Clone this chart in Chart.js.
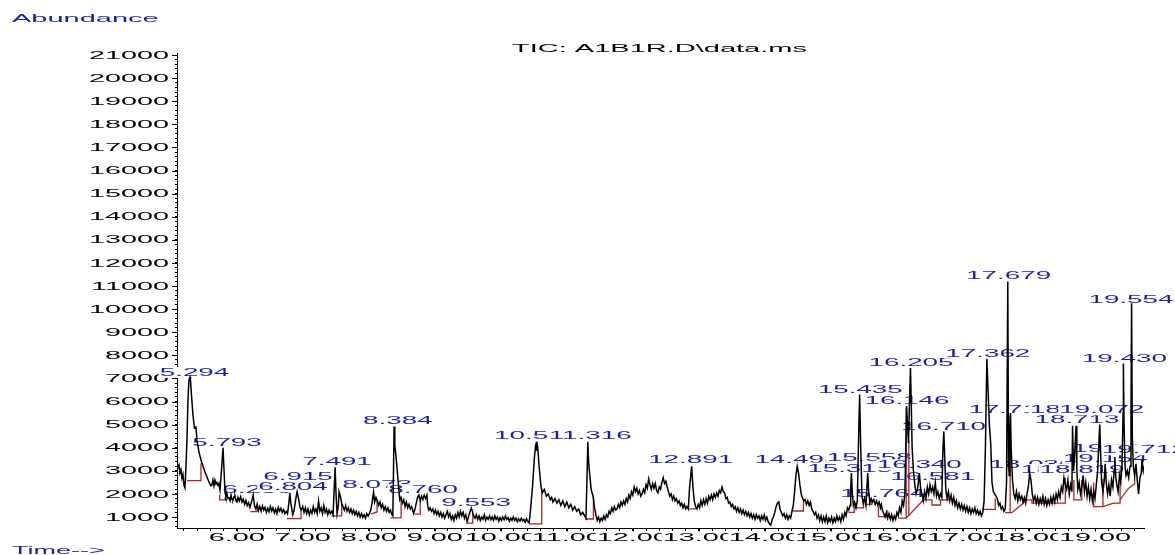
<!DOCTYPE html>
<html>
<head>
<meta charset="utf-8">
<title>TIC: A1B1R.D\data.ms</title>
<script src="https://cdn.jsdelivr.net/npm/chart.js@4.4.1/dist/chart.umd.min.js"></script>
<style>
  html, body { margin: 0; padding: 0; background: #fff; }
  canvas { display: block; }
</style>
</head>
<body>
<canvas id="ticChart" width="1175" height="555"></canvas>
<script>
// TIC trace, [retention time (min), abundance]
const ticA = [
  [5.095,3340],[5.11,3150],[5.126,3250],[5.14,2900],[5.156,3050],[5.171,2690],[5.186,2850],[5.20,2390],
  [5.216,2260],[5.23,3040],[5.247,4340],[5.262,6070],[5.277,6930],[5.294,7060],[5.30,6950],[5.315,6280],
  [5.338,5410],[5.36,4860],[5.383,4900],[5.398,4340],[5.429,3810],[5.46,3470],[5.489,3210],[5.52,2950],
  [5.55,2730],[5.58,2520],[5.61,2350],[5.626,2390],[5.64,2600],[5.656,2350],[5.67,2600],[5.686,2430],
  [5.70,2500],[5.716,2380],[5.73,2450],[5.747,2170],[5.77,3040],[5.793,4000],[5.808,3050],[5.823,2080],
  [5.838,1870],[5.853,2000],[5.868,1800],[5.883,1830],[5.90,1700],[5.914,1950],[5.93,1750],[5.944,1740],
  [5.96,1880],[5.974,1910],[5.99,1700]
];
const ticB = [
  [6.005,1650],[6.02,1850],[6.04,1700],[6.06,1880],[6.08,1650],[6.10,1780],[6.12,1550],[6.14,1720],
  [6.16,1500],[6.18,1620],[6.20,1420],[6.22,1600],[6.25,1950],[6.27,1500],[6.29,1350],[6.31,1560],
  [6.33,1280],[6.35,1450],[6.37,1250],[6.39,1480],[6.41,1300],[6.43,1420],[6.45,1200],[6.47,1380],
  [6.49,1230],[6.51,1450],[6.53,1260],[6.55,1400],[6.57,1180],[6.59,1350],[6.61,1150],[6.63,1420],
  [6.65,1250],[6.67,1380],[6.69,1200],[6.71,1320],[6.73,1150],[6.75,1250],[6.77,1150],[6.79,1600],
  [6.804,2050],[6.82,1600],[6.85,1100],[6.87,1300],[6.89,1700],[6.915,2100],[6.94,1750],[6.96,1400],
  [6.98,1300],[7.00,1450],[7.02,1200],[7.04,1400],[7.06,1150],[7.08,1350],[7.10,1100],[7.12,1300],
  [7.14,1150],[7.16,1450],[7.18,1200],[7.20,1350],[7.22,1150],[7.24,1700],[7.26,1250],[7.28,1400],
  [7.30,1150],[7.32,1500],[7.34,1200],[7.36,1350],[7.38,1100],[7.40,1300],[7.42,1150],[7.44,1250],
  [7.46,1100],[7.475,2100],[7.491,3150],[7.505,2000],[7.52,1150],[7.54,1500],[7.55,2100],[7.57,1900],
  [7.59,1600],[7.61,1450],[7.63,1300],[7.65,1500],[7.67,1250],[7.69,1400],[7.71,1200],[7.73,1350],
  [7.75,1150],[7.77,1300],[7.79,1100],[7.81,1250],[7.83,1050],[7.85,1200],[7.87,1000],[7.89,1150],
  [7.91,980],[7.93,1100],[7.95,950],[7.97,1150],[7.99,1050]
];
const ticC = [
  [8.01,1150],[8.03,1300],[8.05,1600],[8.073,2080],[8.09,1650],[8.11,1850],[8.13,1700],[8.15,1500],
  [8.17,1650],[8.19,1400],[8.21,1550],[8.23,1300],[8.25,1450],[8.27,1250],[8.29,1400],[8.31,1200],
  [8.33,1300],[8.35,1100],[8.365,1050],[8.375,3000],[8.384,4920],[8.395,4100],[8.414,3600],[8.44,2730],
  [8.47,1740],[8.49,1850],[8.51,1600],[8.53,1750],[8.55,1450],[8.57,1650],[8.59,1400],[8.61,1550],
  [8.63,1350],[8.65,1450],[8.68,1150],[8.70,1350],[8.72,1600],[8.74,1850],[8.76,1950],[8.78,1700],
  [8.80,1900],[8.82,1750],[8.84,1950],[8.86,1800],[8.88,1950],[8.895,1450],[8.91,1300],[8.93,1400],
  [8.95,1250],[8.97,1350],[8.99,1150],[9.01,1300],[9.03,1100],[9.05,1250],[9.07,1050],[9.09,1200],
  [9.11,1000],[9.13,1150],[9.15,950],[9.17,1100],[9.19,1250],[9.21,1000],[9.23,1150],[9.25,900],
  [9.27,1050],[9.29,850],[9.31,1100],[9.33,950],[9.35,1200],[9.37,1000],[9.39,1250],[9.41,1050],
  [9.43,1200],[9.45,950],[9.47,1100],[9.49,800],[9.51,1000],[9.53,1200],[9.553,1390],[9.57,1250],
  [9.59,1050],[9.61,950],[9.63,1100],[9.65,900],[9.67,1050],[9.69,850],[9.71,1000],[9.73,900],
  [9.75,1100],[9.77,850],[9.79,1000],[9.81,900],[9.83,1050],[9.85,880],[9.87,1000],[9.89,850],
  [9.91,1050],[9.93,900],[9.95,1000],[9.97,820],[9.99,980],[10.01,850],[10.03,1000],[10.05,880],
  [10.07,1050],[10.09,900],[10.11,980],[10.13,820],[10.15,950],[10.17,860],[10.19,1000],[10.21,850],
  [10.23,950],[10.25,800],[10.27,920],[10.29,820],[10.31,950],[10.33,830],[10.35,900],[10.37,780],
  [10.39,920],[10.41,800]
];
const ticD = [
  [10.43,750],[10.45,1300],[10.48,2300],[10.51,3600],[10.525,4050],[10.535,3900],[10.545,4260],[10.56,4000],
  [10.58,3200],[10.61,2300],[10.63,2050],[10.66,2200],[10.69,1900],[10.72,2000],[10.75,1750],[10.77,1850],
  [10.79,1650],[10.82,1800],[10.85,1600],[10.88,1750],[10.91,1500],[10.94,1700],[10.97,1450],[11.00,1650],
  [11.03,1400],[11.06,1550],[11.09,1300],[11.12,1450],[11.15,1250],[11.18,1350],[11.21,1100],[11.24,1200],
  [11.27,1050],[11.29,950],[11.305,2600],[11.318,4260],[11.33,3400],[11.345,2900],[11.37,2170],[11.40,1880],
  [11.42,1400],[11.44,1100],[11.46,850],[11.48,1000],[11.50,800],[11.52,950],[11.54,850],[11.56,1050],
  [11.58,900],[11.60,1100],[11.62,1000],[11.64,1250],[11.66,1150],[11.68,1400],[11.70,1250],[11.72,1450],
  [11.74,1300],[11.76,1350],[11.78,1550],[11.80,1400],[11.82,1650],[11.84,1500],[11.86,1700],[11.88,1550],
  [11.90,1800],[11.92,1650],[11.94,1950],[11.96,1800],[11.98,2100]
];
const ticE = [
  [12.00,1950],[12.02,2300],[12.04,2100],[12.06,2250],[12.08,2000],[12.10,2150],[12.12,1900],[12.14,2000],
  [12.16,2200],[12.18,2050],[12.20,2400],[12.22,2250],[12.24,2650],[12.26,2400],[12.28,2200],[12.30,2450],
  [12.32,2250],[12.34,2450],[12.36,2150],[12.38,2050],[12.40,2300],[12.42,2200],[12.44,2500],[12.46,2700],
  [12.48,2450],[12.50,2550],[12.52,2300],[12.54,2100],[12.56,1900],[12.58,2000],[12.60,1750],[12.62,1900],
  [12.64,1700],[12.66,1800],[12.68,1600],[12.70,1700],[12.72,1500],[12.74,1600],[12.76,1400],[12.78,1550],
  [12.80,1350],[12.82,1450],[12.84,1350],[12.86,2300],[12.891,3200],[12.91,2300],[12.93,1700],[12.95,1450],
  [12.97,1350],[12.99,1550],[13.01,1400],[13.03,1700],[13.05,1500],[13.07,1750],[13.09,1550],[13.11,1800],
  [13.13,1600],[13.15,1900],[13.17,1750],[13.19,1950],[13.21,1750],[13.23,2000],[13.25,1850],[13.27,2050],
  [13.29,1900],[13.31,2150],[13.33,2050],[13.35,2300],[13.37,2100],[13.39,2050],[13.41,1800],[13.43,1850],
  [13.45,1600],[13.47,1650],[13.49,1450],[13.51,1550],[13.53,1350],[13.55,1450],[13.57,1250],[13.59,1400],
  [13.61,1200],[13.63,1350],[13.65,1150],[13.67,1300],[13.69,1100],[13.71,1250],[13.73,1050],[13.75,1200],
  [13.77,1000],[13.79,1150],[13.81,950],[13.83,1100],[13.85,900],[13.87,1100],[13.89,950],[13.91,1050],
  [13.93,850],[13.95,1050],[13.97,900],[13.99,1100],[14.01,850],[14.03,1000],[14.05,800],[14.07,700],
  [14.09,650],[14.11,900],[14.13,1000],[14.15,1200],[14.17,1450],[14.19,1600],[14.21,1650],[14.23,1350],
  [14.25,1200],[14.27,1050],[14.29,1150],[14.31,950],[14.33,1100],[14.35,900],[14.37,1050],[14.39,950],
  [14.41,1250],[14.43,1500],[14.45,2100],[14.47,2800],[14.49,3200],[14.51,2900],[14.53,2400],[14.55,2000],
  [14.57,1800],[14.59,1700],[14.61,1750],[14.63,1550],[14.65,1700],[14.67,1500],[14.69,1650],[14.71,1350],
  [14.73,1250],[14.75,1100],[14.77,1200],[14.79,950],[14.81,1100],[14.83,850],[14.85,1050],[14.87,800]
];
const ticF = [
  [14.89,1000],[14.91,800],[14.93,1050],[14.95,750],[14.97,950],[14.99,800],[15.01,1000],[15.03,750],
  [15.05,950],[15.07,800],[15.09,1050],[15.11,850],[15.13,1000],[15.15,800],[15.17,1100],[15.19,900],
  [15.21,1200],[15.23,1050],[15.25,1400],[15.27,1300],[15.29,1500],[15.30,2200],[15.31,2900],[15.325,2000],
  [15.34,1500],[15.36,1650],[15.38,1400],[15.40,1700],[15.42,4500],[15.435,6300],[15.45,4200],[15.47,1900],
  [15.49,1600],[15.51,1800],[15.53,1500],[15.545,2300],[15.558,2900],[15.57,2200],[15.59,1600],[15.61,1800],
  [15.63,1650],[15.65,1750],[15.67,1550],[15.69,1700],[15.71,1500],[15.73,1650],[15.75,1400],[15.764,1550],
  [15.78,1300],[15.80,1150],[15.82,1000],[15.84,1200],[15.86,950],[15.88,1150],[15.90,900],[15.92,1100],
  [15.94,850],[15.96,1050],[15.98,900],[16.00,1200],[16.02,1050],[16.04,1400],[16.06,1200],[16.08,1700],
  [16.10,1500],[16.12,2000],[16.135,4000],[16.146,5800],[16.16,5000],[16.175,4200],[16.19,6000],[16.205,7450],
  [16.215,6200],[16.23,4000],[16.25,3000],[16.27,2400],[16.29,2000],[16.31,2200],[16.325,2500],[16.34,2900],
  [16.36,2200],[16.38,2000],[16.40,1700],[16.42,2100],[16.44,1800],[16.46,2300],[16.48,2000],[16.50,2400],
  [16.52,2100],[16.54,2300],[16.56,2000],[16.581,2500],[16.60,1900],[16.62,2100],[16.64,1800],[16.66,2000],
  [16.68,1850],[16.695,3800],[16.71,4700],[16.725,3500],[16.74,2200],[16.76,1800],[16.78,2100]
];
const ticG = [
  [16.80,1700],[16.82,1950],[16.84,1600],[16.86,1850],[16.88,1500],[16.90,1700],[16.92,1400],[16.94,1600],
  [16.96,1350],[16.98,1550],[17.00,1300],[17.02,1500],[17.04,1250],[17.06,1450],[17.08,1200],[17.10,1400],
  [17.12,1150],[17.14,1350],[17.16,1200],[17.18,1400],[17.20,1150],[17.22,1300],[17.24,1100],[17.26,1250],
  [17.28,1050],[17.30,1200],[17.32,1700],[17.34,4000],[17.362,7850],[17.38,6500],[17.40,5000],[17.42,4200],
  [17.44,2500],[17.46,2100],[17.48,2000],[17.50,1900],[17.52,1800],[17.54,1500],[17.56,1600],[17.58,1350],
  [17.60,1450],[17.62,1250],[17.64,1350],[17.66,2500],[17.679,11200],[17.69,3500],[17.70,2800],[17.71,4800],
  [17.72,5500],[17.73,4000],[17.75,2600],[17.77,2000],[17.79,1800],[17.81,2100],[17.83,1700],[17.85,2000],
  [17.87,1750],[17.89,1900],[17.91,1650],[17.93,1850],[17.95,1600],[17.97,2000],[17.99,2300],[18.01,2900],
  [18.03,2600],[18.05,2000],[18.07,1700],[18.09,1900],[18.11,1600],[18.13,1850],[18.15,1550],[18.17,1800],
  [18.19,1600],[18.21,1900],[18.23,1550],[18.25,1800],[18.27,1500],[18.29,1750],[18.31,1550],[18.33,1850],
  [18.35,1600],[18.37,1900],[18.39,1650],[18.41,2000],[18.43,1750],[18.45,2100],[18.47,1850],[18.49,2300]
];
const ticH = [
  [18.51,2100],[18.53,2700],[18.55,2400],[18.57,2200],[18.59,2600],[18.61,2000],[18.63,2400],[18.65,2100],
  [18.66,4950],[18.675,3000],[18.69,3600],[18.713,4950],[18.725,3000],[18.74,2200],[18.76,2500],[18.78,2000],
  [18.80,2300],[18.819,2800],[18.84,2100],[18.86,2500],[18.88,1900],[18.90,2300],[18.92,1800],[18.94,2200],
  [18.96,1700],[18.98,2100],[19.00,1800],[19.02,2400],[19.04,3000],[19.06,4300],[19.072,5000],[19.085,3800],
  [19.10,2500],[19.12,2100],[19.14,2600],[19.154,3300],[19.17,2500],[19.19,2000],[19.21,2400],[19.23,1900],
  [19.25,2600],[19.27,2300],[19.29,3000],[19.30,3600],[19.315,2700],[19.33,2400],[19.35,2100],[19.37,2800],
  [19.39,2500],[19.41,3300],[19.425,5500],[19.43,7650],[19.44,5000],[19.455,3200],[19.47,2800],[19.49,3000],
  [19.51,2700],[19.53,3200],[19.545,5500],[19.554,10250],[19.565,4500],[19.58,3200],[19.60,2800],[19.62,3300],
  [19.64,2600],[19.66,2000],[19.68,2700],[19.70,2900],[19.712,3500],[19.73,3000],[19.742,3200]
];

// integration baselines (red), one polyline each
const baselines = [
  [[5.247,2575],[5.459,2575],[5.459,3330]],
  [[5.742,1955],[5.742,1740],[5.827,1740],[5.827,1870]],
  [[6.206,1230],[6.31,1230],[6.31,1480]],
  [[6.76,930],[6.974,930],[6.974,1350]],
  [[7.44,1050],[7.59,1050],[7.59,1600]],
  [[8.035,1130],[8.126,1220],[8.126,1700]],
  [[8.327,960],[8.49,960],[8.49,1850]],
  [[8.70,1130],[8.78,1130],[8.78,1700]],
  [[9.49,740],[9.576,740],[9.576,1150]],
  [[10.43,700],[10.62,700],[10.62,2260]],
  [[11.277,915],[11.403,915],[11.403,1880]],
  [[12.843,1350],[12.97,1350],[12.97,1400]],
  [[14.41,1260],[14.585,1260],[14.585,1800]],
  [[15.267,1200],[15.354,1200],[15.354,1500]],
  [[15.368,1400],[15.494,1400],[15.494,1600]],
  [[15.52,1550],[15.62,1550],[15.62,1750]],
  [[15.72,1450],[15.72,1015],[15.85,1015],[15.85,1300]],
  [[16.025,950],[16.14,950],[16.40,1740],[16.53,1740],[16.53,1520],[16.66,1520],[16.66,1740],[16.79,1740],[16.79,1850]],
  [[16.14,950],[16.14,5710]],
  [[16.18,1050],[16.18,4300]],
  [[17.288,1335],[17.489,1335],[17.489,1800]],
  [[17.64,1190],[17.74,1190],[17.97,1740],[18.045,1740],[18.045,1600],[18.55,1600],[18.55,2700]],
  [[17.715,1190],[17.715,5400]],
  [[18.68,2600],[18.68,1740],[18.80,1740],[18.80,2600]],
  [[18.98,2500],[18.98,1450],[19.12,1450],[19.12,2650]],
  [[19.12,1450],[19.28,1600],[19.38,1600],[19.38,3000]],
  [[19.38,1750],[19.51,2250],[19.60,2430],[19.60,3000]]
];

// peak labels: [text, centre time, baseline abundance], drawn in this order
const peakLabels = [
  ['5.294', 5.361, 7105], ['5.793', 5.853, 4090], ['6.256', 6.308, 2030], ['6.804', 6.853, 2170],
  ['6.915', 6.929, 2600], ['7.491', 7.52, 3250], ['8.073', 8.126, 2245], ['8.384', 8.44, 5030],
  ['8.760', 8.823, 2030], ['9.553', 9.626, 1480], ['10.546', 10.542, 4365], ['11.316', 11.353, 4365],
  ['12.891', 12.876, 3330], ['14.498', 14.485, 3330], ['15.318', 15.285, 2965], ['15.435', 15.444, 6380],
  ['15.558', 15.58, 3405], ['15.764', 15.785, 1880], ['16.146', 16.152, 5895], ['16.205', 16.213, 7540],
  ['16.340', 16.338, 3110], ['16.581', 16.542, 2605], ['16.710', 16.706, 4770], ['17.362', 17.376, 7940],
  ['17.679', 17.691, 11290], ['17.718', 17.727, 5490], ['18.036', 18.042, 3110], ['18.149', 18.52, 2900],
  ['18.665', 18.656, 5490], ['18.713', 18.727, 5060], ['18.819', 18.803, 2895], ['19.072', 19.103, 5490],
  ['19.306', 19.30, 3830], ['19.154', 19.156, 3395], ['19.430', 19.444, 7725], ['19.554', 19.545, 10280],
  ['19.712', 19.745, 3760]
];

const timeTicks = [6, 7, 8, 9, 10, 11, 12, 13, 14, 15, 16, 17, 18, 19];
const abundanceTicks = [1000, 2000, 3000, 4000, 5000, 6000, 7000, 8000, 9000, 10000,
  11000, 12000, 13000, 14000, 15000, 16000, 17000, 18000, 19000, 20000, 21000];

const BLUE = '#1e1e9e';
const FONT = '10px "Liberation Sans", Arial, sans-serif';

const toPts = arr => arr.map(([t, v]) => ({ x: t, y: v }));

// wide printout lettering: normal glyphs squeezed out horizontally
function wideText(ctx, text, x, y, sx, align, color, box) {
  ctx.save();
  ctx.font = FONT;
  const w = ctx.measureText(text).width * sx;
  const left = align === 'center' ? x - w / 2 : align === 'right' ? x - w : x;
  if (box) {
    ctx.fillStyle = '#fff';
    ctx.fillRect(left - 1, y - 9, w + 2, 11);
  }
  ctx.translate(left, y);
  ctx.scale(sx, 1);
  ctx.fillStyle = color;
  ctx.textAlign = 'left';
  ctx.textBaseline = 'alphabetic';
  ctx.fillText(text, 0, 0);
  ctx.restore();
}

const printout = {
  id: 'printout',
  beforeDraw(chart) {
    const ctx = chart.ctx;
    ctx.save();
    ctx.fillStyle = '#fff';
    ctx.fillRect(0, 0, chart.width, chart.height);
    ctx.restore();
  },
  beforeDatasetsDraw(chart) {
    const { ctx, scales: { x, y } } = chart;
    abundanceTicks.forEach(v => {
      wideText(ctx, String(v), 169, y.getPixelForValue(v) + 3.6, 2.88, 'right', '#000', false);
    });
    peakLabels.forEach(([txt, t, v]) => {
      wideText(ctx, txt, x.getPixelForValue(t), y.getPixelForValue(v), 2.78, 'center', BLUE, true);
    });
  },
  afterDraw(chart) {
    const { ctx, chartArea, scales: { x, y } } = chart;
    // longer marks on the whole-number ticks
    ctx.save();
    ctx.strokeStyle = '#000';
    ctx.lineWidth = 1;
    ctx.beginPath();
    timeTicks.forEach(t => {
      const px = Math.round(x.getPixelForValue(t)) + 0.5;
      ctx.moveTo(px, chartArea.bottom);
      ctx.lineTo(px, chartArea.bottom + 6);
    });
    abundanceTicks.forEach(v => {
      const py = Math.round(y.getPixelForValue(v)) + 0.5;
      ctx.moveTo(chartArea.left - 5, py);
      ctx.lineTo(chartArea.left, py);
    });
    ctx.stroke();
    ctx.restore();

    timeTicks.forEach(t => {
      wideText(ctx, t.toFixed(2), x.getPixelForValue(t), 540.5, 2.88, 'center', '#000', true);
    });

    wideText(ctx, 'Abundance', 12, 22, 2.9, 'left', BLUE, false);
    wideText(ctx, 'TIC: A1B1R.D\\data.ms', 512, 51.5, 2.9, 'left', '#000', false);
    wideText(ctx, 'Time-->', 12, 554, 2.7, 'left', BLUE, false);
  }
};

const datasets = [
  {
    data: toPts([].concat(ticA, ticB, ticC, ticD, ticE, ticF, ticG, ticH)),
    borderColor: '#000',
    borderWidth: 1.5,
    pointRadius: 0,
    tension: 0,
    order: 0
  }
].concat(baselines.map(seg => ({
  data: toPts(seg),
  borderColor: '#a32a2a',
  borderWidth: 1.3,
  pointRadius: 0,
  tension: 0,
  order: 1
})));

new Chart(document.getElementById('ticChart'), {
  type: 'line',
  data: { datasets },
  plugins: [printout],
  options: {
    responsive: false,
    animation: false,
    devicePixelRatio: 1,
    events: [],
    layout: { padding: { left: 0, right: 31, top: 53, bottom: 0 } },
    plugins: {
      legend: { display: false },
      tooltip: { enabled: false },
      title: { display: false }
    },
    scales: {
      x: {
        type: 'linear',
        min: 5.096,
        max: 19.742,
        afterBuildTicks: scale => {
          const ticks = [];
          for (let k = 26; k <= 98; k++) ticks.push({ value: k / 5 });
          scale.ticks = ticks;
        },
        afterFit: scale => { scale.height = 27; },
        ticks: { display: false, autoSkip: false },
        grid: { drawOnChartArea: false, drawTicks: true, tickLength: 3, color: '#000' },
        border: { display: true, color: '#000', width: 1 }
      },
      y: {
        type: 'linear',
        min: 525,
        max: 21090,
        afterBuildTicks: scale => {
          const ticks = [];
          for (let k = 3; k <= 105; k++) ticks.push({ value: k * 200 });
          scale.ticks = ticks;
        },
        afterFit: scale => { scale.width = 177; },
        ticks: { display: false, autoSkip: false },
        grid: { drawOnChartArea: false, drawTicks: true, tickLength: 2, color: '#000' },
        border: { display: true, color: '#000', width: 1 }
      }
    }
  }
});
</script>
</body>
</html>
